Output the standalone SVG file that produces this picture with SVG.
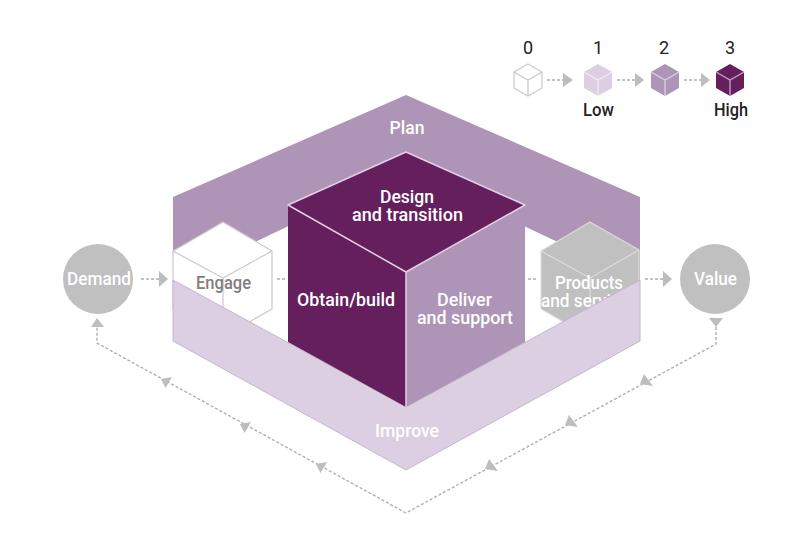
<svg xmlns="http://www.w3.org/2000/svg" width="800" height="534" viewBox="0 0 800 534">
<style>
text{font-family:Roboto,"Liberation Sans",Arial,sans-serif;font-weight:500;font-size:18px;fill:#fff}
.k{fill:#222;font-weight:400}
.mid{text-anchor:middle}
.d{fill:none;stroke:#b0b0b0;stroke-width:1.4;stroke-dasharray:3 2}
.h{fill:#bdbdbd}
.plan{fill:#ae94b6}
.imp{fill:#dccfe2;stroke:#c6b6cd;stroke-width:1}
.dark{fill:#641f5c}
.e{fill:none;stroke:#e3cfe6;stroke-width:1.5;stroke-linejoin:round}
.w{fill:#fff;stroke:#c9c9c9;stroke-width:1.2;stroke-linejoin:round}
.g{fill:#c0c0c0;stroke:#dcdcdc;stroke-width:1.2;stroke-linejoin:round}
</style>
<defs>
<path id="hex" d="M15 1 29 9V25L15 33 1 25V9Z"/>
<path id="y" fill="none" stroke-width="1.3" d="M1 9 15 17 29 9M15 17V33"/>
</defs>
<rect width="800" height="534" fill="#fff"/>
<g id="connectors">
<path class="d" d="M141 279H159M277 279H285M528 279H537M645 279H663M547 80H563M617 80H635M684 80H701"/>
<path class="d" d="M716 327V344L406 513 97 343V326"/>
<path class="h" d="M159 271 168 279 159 287ZM663 271 672 279 663 287ZM563 73 573 80 563 87ZM635 73 644 80 635 87ZM701 73 710 80 701 87Z"/>
<path class="h" d="M709 318H723L716 327ZM91 327H104L97 318Z"/>
<path class="h" d="M172 377 161 379 165.500 388ZM251 422 240 424 244.500 433ZM327 462 316 464 320.500 473Z"/>
<path class="h" d="M644 374 653 386 640 384ZM569 415 578 427 565 425ZM489 459 498 471 485 469Z"/>
</g>
<g id="plan"><path class="plan" d="M406 95 640 197V281L406 170 173 281V197Z"/><text class="mid" x="407" y="134" textLength="35" lengthAdjust="spacingAndGlyphs">Plan</text></g>
<g id="demand"><circle cx="98" cy="279" r="35" fill="#c0c0c0"/><text x="67" y="285" textLength="64" lengthAdjust="spacingAndGlyphs">Demand</text></g>
<g id="value"><circle cx="715" cy="279" r="35" fill="#c0c0c0"/><text x="694" y="285" textLength="43" lengthAdjust="spacingAndGlyphs">Value</text></g>
<g id="engage"><path class="w" d="M223 222 272 251V309L223 337 173 309V251Z"/><path class="w" d="M173 251 223 278 272 251M223 278V337" style="fill:none"/><text x="196" y="289" textLength="55" lengthAdjust="spacingAndGlyphs" style="fill:#808080">Engage</text></g>
<g id="products"><path class="g" d="M590 222 639 250V309L590 337 541 309V251Z"/><path class="g" d="M541 251 590 278 639 250M590 278V337" style="fill:none"/><text x="555" y="289" textLength="68" lengthAdjust="spacingAndGlyphs">Products</text><text x="541" y="307" textLength="97" lengthAdjust="spacingAndGlyphs">and services</text></g>
<g id="improve"><path class="imp" d="M173 280 406 407 640 280V341L406 470 173 341Z"/><text x="375" y="437" textLength="64" lengthAdjust="spacingAndGlyphs">Improve</text></g>
<g id="obtain"><path class="dark" d="M288 205 406 272V407L288 342Z"/><text x="297" y="306" textLength="98" lengthAdjust="spacingAndGlyphs">Obtain/build</text></g>
<g id="deliver"><path class="plan" d="M406 272 525 205V342L406 407Z"/><text x="437" y="306" textLength="55" lengthAdjust="spacingAndGlyphs">Deliver</text><text x="417" y="324" textLength="96" lengthAdjust="spacingAndGlyphs">and support</text></g>
<g id="design"><path class="dark" d="M406 152 525 205 406 272 288 205Z"/><path class="e" d="M288 205 406 152 525 205 406 272ZM406 272V407"/><text x="380" y="203" textLength="54" lengthAdjust="spacingAndGlyphs">Design</text><text x="352" y="221" textLength="111" lengthAdjust="spacingAndGlyphs">and transition</text></g>
<g id="legend0"><text class="k mid" x="528" y="54">0</text><use href="#hex" x="513" y="63" fill="#fff" stroke="#c9c9c9" stroke-width="1.2"/><use href="#y" x="513" y="63" stroke="#c9c9c9"/></g>
<g id="legend1"><text class="k mid" x="598" y="54">1</text><use href="#hex" x="583" y="63" fill="#dccfe2"/><use href="#y" x="583" y="63" stroke="#f1ebf3"/><text class="k" x="583" y="116" textLength="31" lengthAdjust="spacingAndGlyphs" style="font-weight:500">Low</text></g>
<g id="legend2"><text class="k mid" x="664" y="54">2</text><use href="#hex" x="650" y="63" fill="#ae94b6"/><use href="#y" x="650" y="63" stroke="#dccfe2"/></g>
<g id="legend3"><text class="k mid" x="730" y="54">3</text><use href="#hex" x="715" y="63" fill="#641f5c"/><use href="#y" x="715" y="63" stroke="#c9a9cc"/><text class="k" x="714" y="116" textLength="34" lengthAdjust="spacingAndGlyphs" style="font-weight:500">High</text></g>
</svg>
